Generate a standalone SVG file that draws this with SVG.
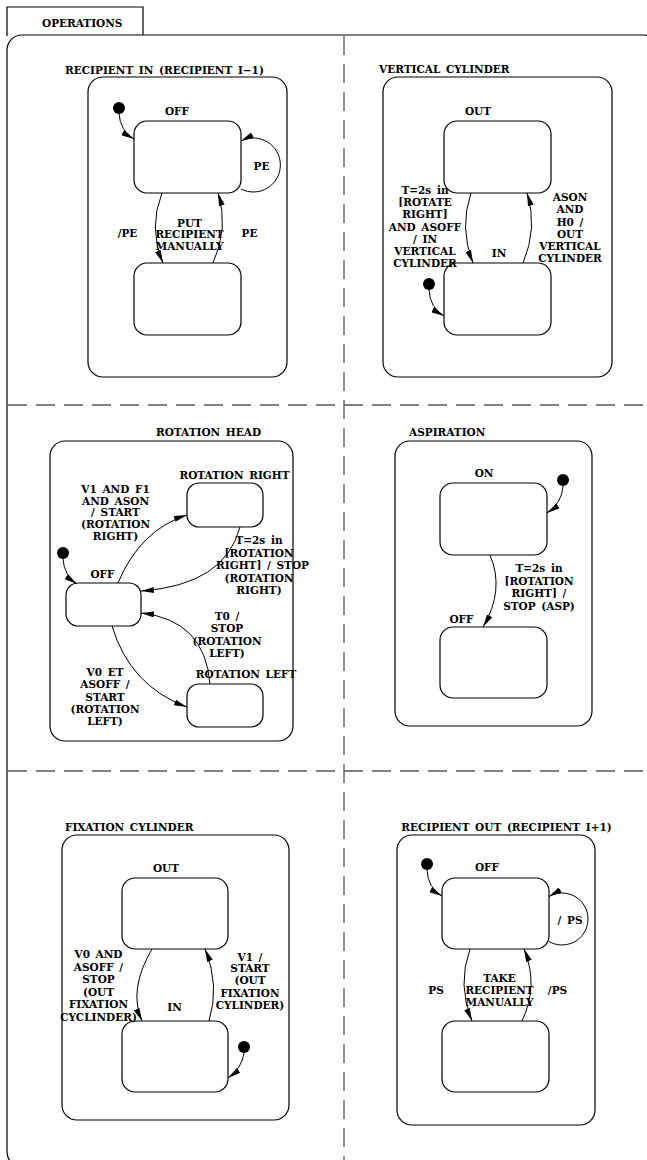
<svg xmlns="http://www.w3.org/2000/svg" width="647" height="1160" viewBox="0 0 647 1160">
<style>
.b{fill:none;stroke:#000;stroke-width:1.2}
.s{fill:#fff;stroke:#000;stroke-width:1.2}
.d{stroke:#555;stroke-width:1.3;stroke-dasharray:19 9;fill:none}
.c{fill:none;stroke:#000;stroke-width:1;marker-end:url(#ah)}
.i{fill:#000}
text{font-family:"DejaVu Serif","Liberation Serif",serif;font-weight:bold;font-size:10.5px;fill:#000;word-spacing:2px}
.m{text-anchor:middle}
</style>
<defs>
<marker id="ah" viewBox="0 0 13 6" refX="13" refY="3" markerWidth="13" markerHeight="6" markerUnits="userSpaceOnUse" orient="auto"><path d="M0,0 L13,3 L0,6 z" fill="#000"/></marker>
</defs>
<g id="operations">
<path d="M7,36 V7 H143 V35" class="b"/>
<rect x="7" y="35" width="652" height="1132" rx="15" class="b"/>
<text x="42" y="27">OPERATIONS</text>
</g>
<g id="dividers">
<line x1="344" y1="36" x2="344" y2="1160" class="d"/>
<line x1="8" y1="405" x2="647" y2="405" class="d"/>
<line x1="8" y1="771" x2="647" y2="771" class="d"/>
</g>
<g id="recipient-in">
<rect x="88" y="77" width="199" height="300" rx="15" class="b"/>
<text x="65" y="74">RECIPIENT IN (RECIPIENT I−1)</text>
</g>
<g id="ri-off"><rect x="134" y="121" width="107" height="72" rx="13" class="s"/><text class="m" x="177" y="115">OFF</text></g>
<g id="ri-lower"><rect x="134" y="263" width="107" height="72" rx="13" class="s"/></g>
<g id="ri-init"><circle cx="119" cy="108" r="6" class="i"/></g>
<g id="vertical-cylinder">
<rect x="383" y="77" width="229" height="300" rx="15" class="b"/>
<text x="379" y="73">VERTICAL CYLINDER</text>
</g>
<g id="vc-out"><rect x="444" y="121" width="107" height="72" rx="13" class="s"/><text class="m" x="478" y="115">OUT</text></g>
<g id="vc-in"><rect x="444" y="263" width="107" height="72" rx="13" class="s"/><text class="m" x="499" y="257">IN</text></g>
<g id="vc-init"><circle cx="429" cy="284" r="6" class="i"/></g>
<g id="rotation-head">
<rect x="50" y="441" width="243" height="300" rx="15" class="b"/>
<text class="m" x="208.5" y="436">ROTATION HEAD</text>
</g>
<g id="rh-right"><rect x="187" y="483" width="76" height="44" rx="12" class="s"/><text class="m" x="234.5" y="479">ROTATION RIGHT</text></g>
<g id="rh-off"><rect x="66" y="583" width="75" height="43" rx="12" class="s"/><text class="m" x="102.5" y="578">OFF</text></g>
<g id="rh-left"><rect x="187" y="684" width="76" height="43" rx="12" class="s"/><text class="m" x="246" y="678">ROTATION LEFT</text></g>
<g id="rh-init"><circle cx="63" cy="553" r="6" class="i"/></g>
<g id="aspiration">
<rect x="395" y="441" width="197" height="285" rx="15" class="b"/>
<text x="409" y="436">ASPIRATION</text>
</g>
<g id="as-on"><rect x="440" y="483" width="107" height="72" rx="13" class="s"/><text class="m" x="484" y="477">ON</text></g>
<g id="as-off"><rect x="440" y="627" width="107" height="71" rx="13" class="s"/><text class="m" x="461.5" y="623">OFF</text></g>
<g id="as-init"><circle cx="563" cy="480" r="6" class="i"/></g>
<g id="fixation-cylinder">
<rect x="62" y="835" width="227" height="285" rx="15" class="b"/>
<text x="65" y="831">FIXATION CYLINDER</text>
</g>
<g id="fc-out"><rect x="122" y="878" width="106" height="71" rx="13" class="s"/><text class="m" x="166" y="872">OUT</text></g>
<g id="fc-in"><rect x="122" y="1021" width="106" height="71" rx="13" class="s"/><text class="m" x="174.5" y="1011">IN</text></g>
<g id="fc-init"><circle cx="244" cy="1047" r="6" class="i"/></g>
<g id="recipient-out">
<rect x="397" y="835" width="198" height="290" rx="15" class="b"/>
<text class="m" x="506.5" y="831">RECIPIENT OUT (RECIPIENT I+1)</text>
</g>
<g id="ro-off"><rect x="442" y="878" width="107" height="71" rx="13" class="s"/><text class="m" x="487" y="871">OFF</text></g>
<g id="ro-lower"><rect x="442" y="1021" width="107" height="71" rx="13" class="s"/></g>
<g id="ro-init"><circle cx="427" cy="864" r="6" class="i"/></g>
<g id="connectors">
<path class="c" d="M119,113 Q120,131 134,139"/>
<path class="c" d="M241,189 A27,27 0 1 0 241,141"/>
<path class="c" d="M162,193 Q148,228 163,263"/>
<path class="c" d="M213,263 Q229,228 218,193"/>
<path class="c" d="M429,290 Q430,308 444,316"/>
<path class="c" d="M471,193 Q459,228 473,263"/>
<path class="c" d="M523,263 Q538,228 527,193"/>
<path class="c" d="M63,559 Q64,575 77,584"/>
<path class="c" d="M118,583 Q140,530 187,515"/>
<path class="c" d="M240,527 Q225,585 141,591"/>
<path class="c" d="M210,684 Q205,620 141,613"/>
<path class="c" d="M112,626 Q130,686 187,707"/>
<path class="c" d="M563,486 Q562,503 547,513"/>
<path class="c" d="M490,555 Q505,590 483,627"/>
<path class="c" d="M244,1053 Q242,1068 228,1078"/>
<path class="c" d="M152,949 Q128,990 142,1021"/>
<path class="c" d="M209,1021 Q220,985 205,949"/>
<path class="c" d="M427,870 Q428,888 442,896"/>
<path class="c" d="M549,941.5 A26,26 0 1 0 549,896.5"/>
<path class="c" d="M470,949 Q457,985 472,1021"/>
<path class="c" d="M522,1021 Q539,985 524,949"/>
</g>
<g id="labels">
<text class="m" x="261.5" y="170">PE</text>
<text class="m" x="127.5" y="237">/PE</text>
<text class="m"><tspan x="189.5" y="227">PUT</tspan><tspan x="189.5" y="238">RECIPIENT</tspan><tspan x="189.5" y="250">MANUALLY</tspan></text>
<text class="m" x="249.5" y="237">PE</text>
<text class="m"><tspan x="425" y="194">T=2s in</tspan><tspan x="425" y="206">[ROTATE</tspan><tspan x="425" y="218">RIGHT]</tspan><tspan x="425" y="230.5">AND ASOFF</tspan><tspan x="425" y="243">/ IN</tspan><tspan x="425" y="255">VERTICAL</tspan><tspan x="425" y="267">CYLINDER</tspan></text>
<text class="m"><tspan x="570" y="201">ASON</tspan><tspan x="570" y="213">AND</tspan><tspan x="570" y="226">H0 /</tspan><tspan x="570" y="238">OUT</tspan><tspan x="570" y="250">VERTICAL</tspan><tspan x="570" y="262">CYLINDER</tspan></text>
<text class="m"><tspan x="115.5" y="493">V1 AND F1</tspan><tspan x="115.5" y="504.5">AND ASON</tspan><tspan x="115.5" y="516">/ START</tspan><tspan x="115.5" y="528">(ROTATION</tspan><tspan x="115.5" y="540">RIGHT)</tspan></text>
<text class="m"><tspan x="259" y="544">T=2s in</tspan><tspan x="259" y="556.5">[ROTATION</tspan><tspan x="262.5" y="569">RIGHT] / STOP</tspan><tspan x="259" y="581.5">(ROTATION</tspan><tspan x="259" y="594">RIGHT)</tspan></text>
<text class="m"><tspan x="227" y="620">T0 /</tspan><tspan x="227" y="632">STOP</tspan><tspan x="227" y="644.5">(ROTATION</tspan><tspan x="227" y="657">LEFT)</tspan></text>
<text class="m"><tspan x="105" y="676">V0 ET</tspan><tspan x="105" y="688">ASOFF /</tspan><tspan x="105" y="701">START</tspan><tspan x="105" y="713">(ROTATION</tspan><tspan x="105" y="725">LEFT)</tspan></text>
<text class="m"><tspan x="539" y="572">T=2s in</tspan><tspan x="539" y="584.5">[ROTATION</tspan><tspan x="539" y="597">RIGHT] /</tspan><tspan x="539" y="609.5">STOP (ASP)</tspan></text>
<text class="m"><tspan x="98.5" y="958">V0 AND</tspan><tspan x="98.5" y="971">ASOFF /</tspan><tspan x="98.5" y="983">STOP</tspan><tspan x="98.5" y="996">(OUT</tspan><tspan x="98.5" y="1008">FIXATION</tspan><tspan x="98.5" y="1021">CYCLINDER)</tspan></text>
<text class="m"><tspan x="250" y="961">V1 /</tspan><tspan x="250" y="972">START</tspan><tspan x="250" y="984">(OUT</tspan><tspan x="250" y="997">FIXATION</tspan><tspan x="250" y="1009">CYLINDER)</tspan></text>
<text class="m" x="570" y="924">/ PS</text>
<text class="m" x="436" y="994">PS</text>
<text class="m"><tspan x="499.5" y="982">TAKE</tspan><tspan x="499.5" y="994">RECIPIENT</tspan><tspan x="499.5" y="1006">MANUALLY</tspan></text>
<text class="m" x="557.5" y="994">/PS</text>
</g>
</svg>
